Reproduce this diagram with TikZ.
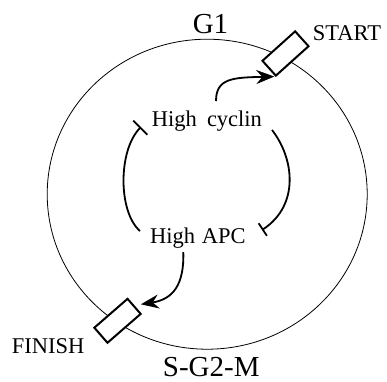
\documentclass[tikz,border=0pt]{standalone}
\usepackage{fontspec}
\setmainfont{Liberation Serif}
\usetikzlibrary{arrows.meta,calc}
\begin{document}
\begin{tikzpicture}[x=1pt,y=-1pt,
  lbl/.style={inner sep=0pt,font=\fontsize{22.5}{24}\selectfont},
  phase/.style={inner sep=0pt,font=\fontsize{29}{31}\selectfont},
  gate/.style={draw,line width=2pt,fill=white,minimum width=44pt,minimum height=20pt,inner sep=0pt},
  link/.style={line width=1.8pt},
  act/.style={link,-{Stealth[length=18pt,width=14pt,inset=6pt]}},
  inh/.style={link,-{Bar[width=#1,line width=1.8pt]}}]
\useasboundingbox (0,0) rectangle (387,381);
% the cell cycle
\draw[line width=0.8pt] (207.2,194.2) ellipse [x radius=160, y radius=155];
% checkpoints
\node[gate,rotate=42] (start) at (285.5,53.5) {};
\node[gate,rotate=41] (finish) at (117.5,320.8) {};
% labels
\node[phase,anchor=base] (g1) at (210.5,33.3) {G1};
\node[phase,anchor=base west] (sgm) at (162.7,376) {S-G2-M};
\node[lbl,anchor=base west] (starttxt) at (312.7,40.7) {START};
\node[lbl,anchor=base west] (finishtxt) at (11.7,353.3) {FINISH};
\node[lbl,anchor=base west] (cyc) at (151.7,126.7) {High\hspace{0.45em}cyclin};
\node[lbl,anchor=base west] (apc) at (150,243.3) {High\hspace{0.3em}APC};
% interactions
\draw[act] ($(cyc.base west)+(64.3,-25.7)$) .. controls +(0,-23) and +(-41,1) .. ($(start.south west)+(-1.5,-0.5)$);
\draw[inh=15pt] ($(cyc.base west)+(120.3,3.3)$) .. controls +(22,28) and +(38,-25) .. ($(apc.base west)+(112,-13.3)$);
\draw[inh=20pt] ($(apc.base west)+(-10,-12.3)$) .. controls +(-22,-19) and +(-23,23) .. ($(cyc.base west)+(-10.7,0.3)$);
\draw[act] ($(apc.base west)+(33.3,8.7)$) .. controls +(1,33) and +(32,-5) .. ($(finish.east)+(6,-1.4)$);
\end{tikzpicture}
\end{document}
